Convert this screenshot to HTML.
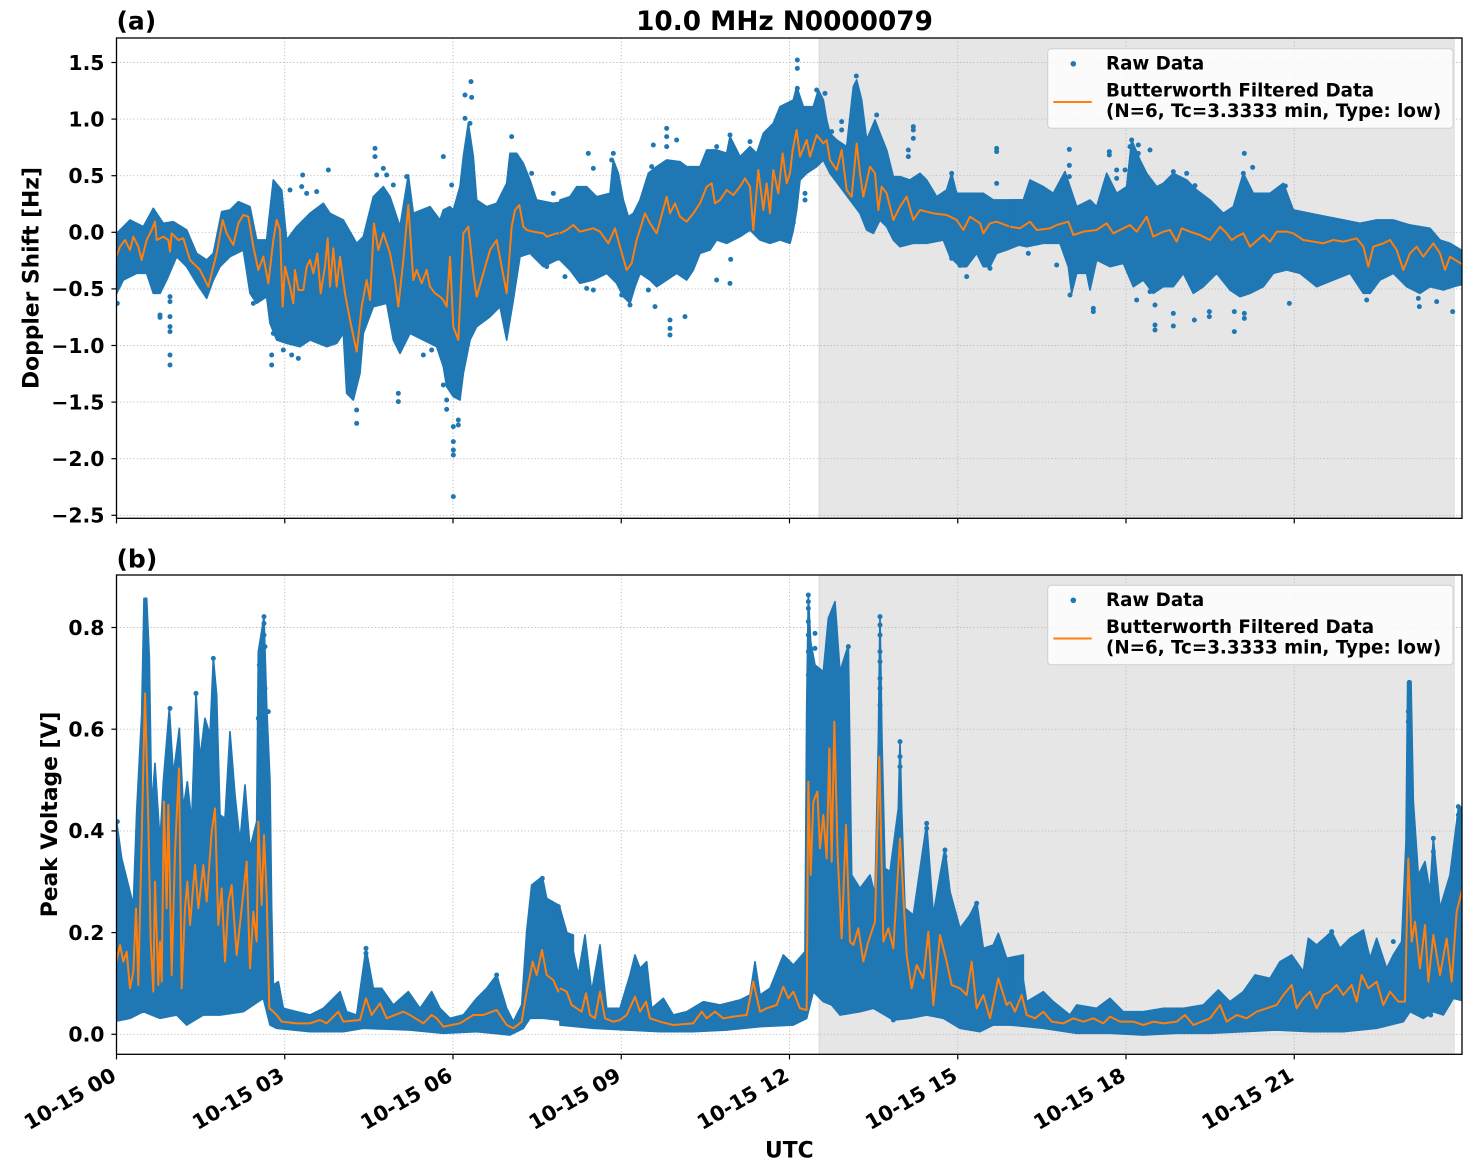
<!DOCTYPE html>
<html><head><meta charset="utf-8"><style>
html,body{margin:0;padding:0;background:#fff;}
svg{display:block;}
text{font-family:"DejaVu Sans","Liberation Sans",sans-serif;font-weight:bold;fill:#000;}
</style></head><body>
<svg width="1471" height="1172" viewBox="0 0 1471 1172" xmlns="http://www.w3.org/2000/svg">
<defs>
<clipPath id="ca"><rect x="116.5" y="38" width="1345.5" height="480.3"/></clipPath>
<clipPath id="cb"><rect x="116.5" y="575" width="1345.5" height="479.3"/></clipPath>
</defs>
<rect width="1471" height="1172" fill="#fff"/>

<!-- ===== PANEL A ===== -->
<rect x="818.8" y="38" width="636.2" height="480.3" fill="#e6e6e6"/>
<line x1="819.3" y1="38" x2="819.3" y2="518.3" stroke="#dadada" stroke-width="1.2"/>
<g stroke="#b9b9b9" stroke-width="0.9" stroke-dasharray="1.2,2.2" fill="none">
<line x1="284.75" y1="38" x2="284.75" y2="518"/><line x1="453" y1="38" x2="453" y2="518"/><line x1="621.25" y1="38" x2="621.25" y2="518"/><line x1="789.5" y1="38" x2="789.5" y2="518"/><line x1="957.75" y1="38" x2="957.75" y2="518"/><line x1="1126" y1="38" x2="1126" y2="518"/><line x1="1294.25" y1="38" x2="1294.25" y2="518"/>
<line x1="116.5" y1="62.5" x2="1462" y2="62.5"/><line x1="116.5" y1="119.1" x2="1462" y2="119.1"/><line x1="116.5" y1="175.7" x2="1462" y2="175.7"/><line x1="116.5" y1="232.3" x2="1462" y2="232.3"/><line x1="116.5" y1="288.9" x2="1462" y2="288.9"/><line x1="116.5" y1="345.5" x2="1462" y2="345.5"/><line x1="116.5" y1="402.1" x2="1462" y2="402.1"/><line x1="116.5" y1="458.7" x2="1462" y2="458.7"/><line x1="116.5" y1="515.3" x2="1462" y2="515.3"/>
</g>
<g clip-path="url(#ca)">
<g transform="translate(110,40) scale(0.33333)">
<polygon fill="#1f77b4" stroke="#1f77b4" stroke-width="5" stroke-linejoin="round" points="10,580 20,580 60,540 100,560 130,505 160,550 190,545 230,570 260,640 290,660 310,640 335,515 360,510 385,485 420,500 440,600 470,600 490,420 515,450 530,600 560,560 600,520 640,490 660,520 700,540 740,610 760,590 790,470 820,440 840,470 870,560 895,405 910,520 960,500 990,540 1000,510 1020,500 1030,510 1050,440 1060,350 1075,250 1090,350 1100,480 1130,500 1160,490 1190,430 1200,340 1220,340 1240,370 1260,420 1280,480 1330,490 1390,480 1390,650 1340,660 1300,680 1260,640 1230,650 1210,780 1190,900 1170,800 1140,830 1100,860 1080,900 1060,1000 1050,1080 1030,1070 1010,1040 1000,980 980,920 940,900 900,880 870,940 850,900 830,790 790,800 760,880 750,1000 730,1080 710,1060 700,880 680,910 650,920 600,900 570,920 530,910 500,900 480,850 470,770 440,790 420,760 400,630 360,650 330,680 310,720 290,775 260,730 230,680 200,650 170,720 150,760 130,760 110,700 80,700 40,720 20,760 10,760"/>
<g fill="#1f77b4">
<circle cx="180" cy="770" r="7.5"/><circle cx="180" cy="785" r="7.5"/><circle cx="180" cy="830" r="7.5"/><circle cx="180" cy="860" r="7.5"/><circle cx="180" cy="875" r="7.5"/><circle cx="180" cy="945" r="7.5"/><circle cx="180" cy="975" r="7.5"/><circle cx="150" cy="825" r="7.5"/><circle cx="150" cy="832" r="7.5"/><circle cx="485" cy="945" r="7.5"/><circle cx="485" cy="975" r="7.5"/><circle cx="520" cy="930" r="7.5"/><circle cx="545" cy="945" r="7.5"/><circle cx="565" cy="955" r="7.5"/><circle cx="740" cy="1110" r="7.5"/><circle cx="740" cy="1150" r="7.5"/><circle cx="865" cy="1060" r="7.5"/><circle cx="865" cy="1085" r="7.5"/><circle cx="1000" cy="1035" r="7.5"/><circle cx="1010" cy="1080" r="7.5"/><circle cx="1010" cy="1108" r="7.5"/><circle cx="1030" cy="1160" r="7.5"/><circle cx="1030" cy="1205" r="7.5"/><circle cx="1030" cy="1230" r="7.5"/><circle cx="1030" cy="1245" r="7.5"/><circle cx="1045" cy="1140" r="7.5"/><circle cx="1045" cy="1155" r="7.5"/><circle cx="1030" cy="1370" r="7.5"/><circle cx="795" cy="325" r="7.5"/><circle cx="795" cy="350" r="7.5"/><circle cx="820" cy="385" r="7.5"/><circle cx="850" cy="435" r="7.5"/><circle cx="1000" cy="350" r="7.5"/><circle cx="1083" cy="125" r="7.5"/><circle cx="1065" cy="165" r="7.5"/><circle cx="1085" cy="172" r="7.5"/><circle cx="1065" cy="235" r="7.5"/><circle cx="1080" cy="250" r="7.5"/><circle cx="578" cy="405" r="7.5"/><circle cx="655" cy="390" r="7.5"/><circle cx="1205" cy="290" r="7.5"/><circle cx="1265" cy="400" r="7.5"/><circle cx="1330" cy="460" r="7.5"/><circle cx="1365" cy="710" r="7.5"/><circle cx="1310" cy="680" r="7.5"/><circle cx="1025" cy="435" r="7.5"/><circle cx="1055" cy="440" r="7.5"/><circle cx="540" cy="450" r="7.5"/><circle cx="620" cy="455" r="7.5"/><circle cx="890" cy="410" r="7.5"/><circle cx="575" cy="440" r="7.5"/><circle cx="590" cy="460" r="7.5"/><circle cx="830" cy="405" r="7.5"/><circle cx="800" cy="405" r="7.5"/><circle cx="22" cy="790" r="7.5"/><circle cx="490" cy="880" r="7.5"/><circle cx="430" cy="790" r="7.5"/><circle cx="940" cy="945" r="7.5"/><circle cx="965" cy="930" r="7.5"/>
</g>
<polyline fill="none" stroke="#ff7f0e" stroke-width="6" stroke-linejoin="round" points="15,660 30,620 45,600 60,630 70,590 85,620 95,660 110,600 125,570 135,545 140,600 160,590 175,600 180,635 185,580 205,600 220,595 240,660 270,690 295,740 320,640 338,540 350,580 370,615 385,550 400,525 415,530 430,620 445,690 460,650 475,730 490,600 500,540 510,570 518,800 525,680 540,740 550,790 555,690 565,750 580,750 590,680 600,660 610,700 622,640 632,760 645,680 653,595 660,740 670,625 680,740 690,650 705,760 720,840 740,935 755,800 770,720 780,780 792,550 805,630 820,580 840,640 855,720 865,800 880,660 895,495 910,720 920,690 935,730 950,690 960,740 975,760 990,770 1000,780 1010,800 1020,650 1030,860 1045,900 1060,580 1075,560 1090,700 1100,770 1120,700 1140,630 1160,600 1175,680 1190,760 1205,560 1215,510 1228,495 1240,560 1250,570 1270,575 1300,580 1310,590 1340,580 1350,580"/>
</g>
<g transform="translate(560,40) scale(0.33333)">
<polygon fill="#1f77b4" stroke="#1f77b4" stroke-width="5" stroke-linejoin="round" points="0,480 30,470 50,440 80,440 110,470 150,460 160,360 175,400 190,480 205,530 220,520 240,480 265,400 290,380 320,360 360,365 380,380 420,380 440,330 470,330 500,340 510,290 540,350 570,320 590,340 610,280 640,250 660,200 680,190 700,180 710,140 730,200 760,200 775,150 790,180 800,240 810,280 830,300 860,320 880,140 890,120 905,180 920,300 945,240 960,280 980,330 1000,410 1020,410 1050,420 1080,400 1100,420 1130,470 1160,450 1175,400 1190,460 1220,460 1270,460 1300,480 1340,480 1390,480 1390,610 1340,630 1310,640 1290,680 1270,680 1250,640 1220,680 1200,680 1170,650 1150,600 1100,610 1060,610 1020,620 1000,600 980,560 960,540 940,580 920,570 900,520 870,480 840,440 810,400 790,360 770,380 740,400 720,420 710,510 700,570 690,610 660,600 630,610 600,600 570,570 540,590 500,610 470,600 450,630 420,640 400,690 380,720 350,700 320,720 290,740 270,720 240,700 225,740 210,790 190,770 170,730 140,700 100,720 60,730 30,690 0,660"/>
<g fill="#1f77b4">
<circle cx="85" cy="340" r="7.5"/><circle cx="100" cy="385" r="7.5"/><circle cx="160" cy="340" r="7.5"/><circle cx="155" cy="360" r="7.5"/><circle cx="320" cy="265" r="7.5"/><circle cx="320" cy="290" r="7.5"/><circle cx="320" cy="320" r="7.5"/><circle cx="280" cy="315" r="7.5"/><circle cx="350" cy="300" r="7.5"/><circle cx="275" cy="380" r="7.5"/><circle cx="470" cy="320" r="7.5"/><circle cx="510" cy="285" r="7.5"/><circle cx="570" cy="305" r="7.5"/><circle cx="712" cy="60" r="7.5"/><circle cx="712" cy="85" r="7.5"/><circle cx="712" cy="145" r="7.5"/><circle cx="712" cy="165" r="7.5"/><circle cx="770" cy="150" r="7.5"/><circle cx="795" cy="160" r="7.5"/><circle cx="889" cy="108" r="7.5"/><circle cx="950" cy="225" r="7.5"/><circle cx="845" cy="245" r="7.5"/><circle cx="845" cy="270" r="7.5"/><circle cx="815" cy="275" r="7.5"/><circle cx="1060" cy="260" r="7.5"/><circle cx="1060" cy="270" r="7.5"/><circle cx="1060" cy="295" r="7.5"/><circle cx="1045" cy="330" r="7.5"/><circle cx="1045" cy="350" r="7.5"/><circle cx="1310" cy="325" r="7.5"/><circle cx="1310" cy="335" r="7.5"/><circle cx="1310" cy="430" r="7.5"/><circle cx="1175" cy="400" r="7.5"/><circle cx="100" cy="750" r="7.5"/><circle cx="80" cy="745" r="7.5"/><circle cx="185" cy="765" r="7.5"/><circle cx="210" cy="795" r="7.5"/><circle cx="330" cy="840" r="7.5"/><circle cx="330" cy="865" r="7.5"/><circle cx="330" cy="885" r="7.5"/><circle cx="375" cy="830" r="7.5"/><circle cx="285" cy="800" r="7.5"/><circle cx="265" cy="750" r="7.5"/><circle cx="470" cy="720" r="7.5"/><circle cx="510" cy="730" r="7.5"/><circle cx="512" cy="658" r="7.5"/><circle cx="700" cy="548" r="7.5"/><circle cx="735" cy="480" r="7.5"/><circle cx="735" cy="460" r="7.5"/><circle cx="1200" cy="676" r="7.5"/><circle cx="1220" cy="710" r="7.5"/><circle cx="1290" cy="685" r="7.5"/><circle cx="1175" cy="655" r="7.5"/>
</g>
<polyline fill="none" stroke="#ff7f0e" stroke-width="6" stroke-linejoin="round" points="0,580 20,570 40,555 60,575 80,570 100,565 120,575 145,610 165,565 180,620 200,690 215,670 230,600 255,520 270,550 290,580 305,525 320,470 330,520 345,490 360,530 380,545 400,520 420,490 440,440 455,430 465,490 480,480 500,450 520,465 540,440 555,415 570,440 580,570 595,390 610,510 620,430 630,520 640,390 655,460 668,340 680,430 690,400 698,330 710,270 720,350 740,300 750,350 770,285 790,310 800,300 810,360 830,390 845,330 860,450 875,470 890,310 900,400 910,470 930,380 945,400 955,510 965,440 980,460 1000,540 1020,500 1040,470 1060,540 1080,510 1100,515 1120,520 1160,525 1190,540 1210,570 1230,530 1260,550 1270,580 1290,550 1310,545 1350,560"/>
</g>
<g transform="translate(1010,40) scale(0.33333)">
<polygon fill="#1f77b4" stroke="#1f77b4" stroke-width="5" stroke-linejoin="round" points="0,480 40,480 60,420 100,440 130,460 165,395 180,440 200,500 240,480 260,500 290,400 320,460 350,440 365,300 390,360 410,400 440,440 460,430 490,400 530,420 560,450 600,480 640,520 670,500 700,400 730,460 780,460 820,430 850,510 900,520 950,530 1000,540 1050,550 1100,540 1150,540 1200,555 1260,565 1290,600 1320,610 1370,640 1370,730 1330,740 1300,750 1260,740 1230,760 1190,740 1150,700 1110,720 1080,760 1060,760 1020,700 970,720 920,740 870,700 830,690 790,700 760,740 720,760 690,770 660,750 620,700 580,740 550,760 520,700 490,740 460,740 430,760 400,720 370,740 340,670 300,680 260,660 240,750 230,700 200,700 185,760 175,680 150,610 100,610 50,620 0,610"/>
<g fill="#1f77b4">
<circle cx="178" cy="328" r="7.5"/><circle cx="178" cy="376" r="7.5"/><circle cx="178" cy="410" r="7.5"/><circle cx="298" cy="335" r="7.5"/><circle cx="298" cy="345" r="7.5"/><circle cx="320" cy="390" r="7.5"/><circle cx="320" cy="415" r="7.5"/><circle cx="345" cy="390" r="7.5"/><circle cx="365" cy="300" r="7.5"/><circle cx="360" cy="320" r="7.5"/><circle cx="385" cy="315" r="7.5"/><circle cx="420" cy="330" r="7.5"/><circle cx="385" cy="340" r="7.5"/><circle cx="385" cy="395" r="7.5"/><circle cx="400" cy="410" r="7.5"/><circle cx="490" cy="395" r="7.5"/><circle cx="530" cy="400" r="7.5"/><circle cx="555" cy="437" r="7.5"/><circle cx="703" cy="340" r="7.5"/><circle cx="728" cy="382" r="7.5"/><circle cx="700" cy="400" r="7.5"/><circle cx="826" cy="438" r="7.5"/><circle cx="826" cy="478" r="7.5"/><circle cx="250" cy="805" r="7.5"/><circle cx="250" cy="815" r="7.5"/><circle cx="180" cy="765" r="7.5"/><circle cx="435" cy="795" r="7.5"/><circle cx="380" cy="780" r="7.5"/><circle cx="420" cy="755" r="7.5"/><circle cx="435" cy="855" r="7.5"/><circle cx="435" cy="870" r="7.5"/><circle cx="490" cy="820" r="7.5"/><circle cx="490" cy="858" r="7.5"/><circle cx="553" cy="840" r="7.5"/><circle cx="598" cy="815" r="7.5"/><circle cx="598" cy="830" r="7.5"/><circle cx="673" cy="815" r="7.5"/><circle cx="673" cy="875" r="7.5"/><circle cx="703" cy="820" r="7.5"/><circle cx="703" cy="835" r="7.5"/><circle cx="838" cy="790" r="7.5"/><circle cx="1070" cy="780" r="7.5"/><circle cx="1228" cy="800" r="7.5"/><circle cx="1280" cy="785" r="7.5"/><circle cx="1328" cy="815" r="7.5"/><circle cx="55" cy="640" r="7.5"/><circle cx="140" cy="675" r="7.5"/><circle cx="1225" cy="775" r="7.5"/>
</g>
<polyline fill="none" stroke="#ff7f0e" stroke-width="6" stroke-linejoin="round" points="0,560 30,565 60,545 80,570 120,565 140,555 175,545 190,585 220,575 260,570 290,550 310,580 340,565 360,555 380,575 410,530 430,590 460,575 480,570 500,605 515,565 540,575 570,585 600,600 630,560 650,580 665,600 680,590 700,580 720,620 760,585 780,605 800,575 830,575 850,580 880,600 910,605 940,610 970,600 1000,605 1040,595 1060,620 1075,680 1090,620 1120,610 1140,600 1160,630 1180,690 1200,640 1220,620 1240,650 1270,610 1290,640 1305,690 1320,650 1360,675"/>
</g>
</g>
<!-- legend A -->
<rect x="1047.7" y="48.8" width="405.3" height="79.5" rx="3.5" fill="#ffffff" fill-opacity="0.82" stroke="#cfcfcf" stroke-width="1"/>
<circle cx="1073.3" cy="63.8" r="2.8" fill="#1f77b4"/>
<line x1="1053.3" y1="102" x2="1091.7" y2="102" stroke="#ff7f0e" stroke-width="2"/>
<text x="1106" y="69.6" font-size="18.3">Raw Data</text>
<text x="1106" y="96.4" font-size="18.3">Butterworth Filtered Data</text>
<text x="1106" y="117" font-size="18.3">(N=6, Tc=3.3333 min, Type: low)</text>
<!-- axes A frame & ticks -->
<rect x="116.5" y="38" width="1345.5" height="480.3" fill="none" stroke="#000" stroke-width="1.3"/>
<g stroke="#000" stroke-width="1.2">
<line x1="111.4" y1="62.5" x2="116.5" y2="62.5"/><line x1="111.4" y1="119.1" x2="116.5" y2="119.1"/><line x1="111.4" y1="175.7" x2="116.5" y2="175.7"/><line x1="111.4" y1="232.3" x2="116.5" y2="232.3"/><line x1="111.4" y1="288.9" x2="116.5" y2="288.9"/><line x1="111.4" y1="345.5" x2="116.5" y2="345.5"/><line x1="111.4" y1="402.1" x2="116.5" y2="402.1"/><line x1="111.4" y1="458.7" x2="116.5" y2="458.7"/><line x1="111.4" y1="515.3" x2="116.5" y2="515.3"/>
<line x1="116.5" y1="518.3" x2="116.5" y2="523.4"/><line x1="284.75" y1="518.3" x2="284.75" y2="523.4"/><line x1="453" y1="518.3" x2="453" y2="523.4"/><line x1="621.25" y1="518.3" x2="621.25" y2="523.4"/><line x1="789.5" y1="518.3" x2="789.5" y2="523.4"/><line x1="957.75" y1="518.3" x2="957.75" y2="523.4"/><line x1="1126" y1="518.3" x2="1126" y2="523.4"/><line x1="1294.25" y1="518.3" x2="1294.25" y2="523.4"/>
</g>
<g font-size="20.4" text-anchor="end">
<text x="104.5" y="69.8">1.5</text><text x="104.5" y="126.4">1.0</text><text x="104.5" y="183">0.5</text><text x="104.5" y="239.6">0.0</text><text x="104.5" y="296.2">−0.5</text><text x="104.5" y="352.8">−1.0</text><text x="104.5" y="409.4">−1.5</text><text x="104.5" y="466">−2.0</text><text x="104.5" y="522.6">−2.5</text>
</g>
<text x="38.5" y="278" font-size="21.8" text-anchor="middle" transform="rotate(-90 38.5 278)">Doppler Shift [Hz]</text>
<text x="116.5" y="29.5" font-size="25">(a)</text>
<text x="784.5" y="30" font-size="26.3" text-anchor="middle">10.0 MHz N0000079</text>

<!-- ===== PANEL B ===== -->
<rect x="818.8" y="575" width="636.2" height="479.3" fill="#e6e6e6"/>
<line x1="819.3" y1="575" x2="819.3" y2="1054.3" stroke="#dadada" stroke-width="1.2"/>
<g stroke="#b9b9b9" stroke-width="0.9" stroke-dasharray="1.2,2.2" fill="none">
<line x1="284.75" y1="575" x2="284.75" y2="1054"/><line x1="453" y1="575" x2="453" y2="1054"/><line x1="621.25" y1="575" x2="621.25" y2="1054"/><line x1="789.5" y1="575" x2="789.5" y2="1054"/><line x1="957.75" y1="575" x2="957.75" y2="1054"/><line x1="1126" y1="575" x2="1126" y2="1054"/><line x1="1294.25" y1="575" x2="1294.25" y2="1054"/>
<line x1="116.5" y1="627.5" x2="1462" y2="627.5"/><line x1="116.5" y1="729.2" x2="1462" y2="729.2"/><line x1="116.5" y1="830.9" x2="1462" y2="830.9"/><line x1="116.5" y1="932.6" x2="1462" y2="932.6"/><line x1="116.5" y1="1034.3" x2="1462" y2="1034.3"/>
</g>
<g clip-path="url(#cb)">
<g transform="translate(110,575) scale(0.33333)">
<polygon fill="#1f77b4" stroke="#1f77b4" stroke-width="5" stroke-linejoin="round" points="10,740 20,740 35,850 50,910 70,990 80,710 95,420 102,70 110,70 118,250 125,700 135,565 150,800 160,620 178,400 190,600 208,460 220,700 232,620 245,740 258,355 270,550 285,430 300,480 310,250 320,360 330,720 345,730 360,470 375,660 390,800 405,630 420,820 440,740 445,230 462,125 470,390 480,620 485,1000 490,1230 505,1220 520,1300 560,1310 600,1320 640,1300 690,1250 710,1310 740,1320 768,1120 790,1240 815,1240 850,1290 895,1250 930,1300 965,1250 990,1300 1020,1330 1060,1320 1100,1270 1130,1240 1160,1200 1190,1300 1210,1340 1235,1290 1250,1070 1265,930 1297,905 1310,970 1345,990 1360,1070 1390,1080 1390,1340 1300,1330 1260,1330 1240,1360 1200,1380 1100,1370 1000,1375 900,1365 760,1360 700,1370 600,1370 500,1360 480,1350 460,1270 400,1310 330,1320 280,1320 230,1350 200,1320 150,1330 100,1310 60,1330 10,1340"/>
<g fill="#1f77b4">
<circle cx="462" cy="125" r="7.5"/><circle cx="462" cy="145" r="7.5"/><circle cx="462" cy="180" r="7.5"/><circle cx="465" cy="215" r="7.5"/><circle cx="462" cy="300" r="7.5"/><circle cx="450" cy="235" r="7.5"/><circle cx="448" cy="270" r="7.5"/><circle cx="465" cy="340" r="7.5"/><circle cx="475" cy="410" r="7.5"/><circle cx="445" cy="430" r="7.5"/><circle cx="768" cy="1120" r="7.5"/><circle cx="768" cy="1135" r="7.5"/><circle cx="768" cy="1175" r="7.5"/><circle cx="1160" cy="1200" r="7.5"/><circle cx="1160" cy="1215" r="7.5"/><circle cx="1345" cy="995" r="7.5"/><circle cx="1345" cy="1015" r="7.5"/><circle cx="1345" cy="1035" r="7.5"/><circle cx="1297" cy="910" r="7.5"/><circle cx="180" cy="400" r="7.5"/><circle cx="258" cy="355" r="7.5"/><circle cx="310" cy="250" r="7.5"/><circle cx="22" cy="740" r="7.5"/>
</g>
<polyline fill="none" stroke="#ff7f0e" stroke-width="6" stroke-linejoin="round" points="15,1180 30,1110 40,1160 50,1130 60,1240 70,1190 78,1000 85,1230 95,790 105,355 115,740 122,1100 130,1250 135,920 145,1230 150,1100 155,1220 162,680 170,1000 175,690 185,1200 195,830 207,580 215,1240 225,1000 232,920 240,1050 255,870 265,1000 280,870 290,980 305,770 315,700 325,1050 335,940 345,1160 355,980 365,930 380,1140 395,1000 410,860 420,1180 430,1010 440,1100 445,740 455,990 462,780 470,960 478,1300 490,1310 500,1320 515,1340 560,1345 600,1345 630,1335 650,1345 685,1310 700,1340 750,1335 768,1270 785,1320 810,1285 830,1330 880,1310 900,1320 940,1345 965,1320 980,1330 1000,1355 1050,1345 1090,1320 1120,1320 1160,1305 1190,1350 1210,1360 1235,1340 1250,1250 1268,1160 1280,1200 1296,1125 1310,1200 1330,1215 1345,1250 1350,1240"/>
</g>
<g transform="translate(560,575) scale(0.33333)">
<polygon fill="#1f77b4" stroke="#1f77b4" stroke-width="5" stroke-linejoin="round" points="0,1000 20,1070 40,1130 55,1200 75,1080 95,1250 120,1110 140,1300 180,1300 210,1200 225,1140 240,1180 260,1160 275,1300 310,1270 340,1320 380,1310 430,1280 480,1290 540,1275 570,1260 585,1160 600,1260 630,1240 670,1140 700,1170 735,1130 740,400 745,60 752,200 765,270 790,290 805,130 825,80 840,290 865,210 872,700 875,900 900,940 930,900 945,960 955,500 960,120 966,500 975,880 990,890 1015,700 1020,500 1025,700 1035,1000 1060,1020 1100,745 1120,1020 1140,900 1155,820 1170,950 1200,1060 1230,1020 1250,980 1270,1120 1300,1110 1315,1075 1340,1150 1390,1140 1390,1350 1300,1350 1260,1370 1200,1360 1150,1330 1100,1320 1050,1330 1000,1335 940,1300 900,1310 840,1320 815,1290 790,1280 760,1250 740,1330 700,1350 600,1355 500,1365 400,1370 300,1370 200,1365 100,1360 0,1350"/>
<g fill="#1f77b4">
<circle cx="745" cy="60" r="7.5"/><circle cx="745" cy="80" r="7.5"/><circle cx="745" cy="100" r="7.5"/><circle cx="745" cy="140" r="7.5"/><circle cx="745" cy="180" r="7.5"/><circle cx="745" cy="230" r="7.5"/><circle cx="745" cy="300" r="7.5"/><circle cx="765" cy="175" r="7.5"/><circle cx="765" cy="220" r="7.5"/><circle cx="960" cy="125" r="7.5"/><circle cx="960" cy="150" r="7.5"/><circle cx="960" cy="180" r="7.5"/><circle cx="960" cy="230" r="7.5"/><circle cx="960" cy="260" r="7.5"/><circle cx="960" cy="310" r="7.5"/><circle cx="960" cy="340" r="7.5"/><circle cx="960" cy="390" r="7.5"/><circle cx="1020" cy="500" r="7.5"/><circle cx="1020" cy="545" r="7.5"/><circle cx="1020" cy="575" r="7.5"/><circle cx="1100" cy="745" r="7.5"/><circle cx="1100" cy="760" r="7.5"/><circle cx="1100" cy="820" r="7.5"/><circle cx="1100" cy="860" r="7.5"/><circle cx="1155" cy="825" r="7.5"/><circle cx="1155" cy="845" r="7.5"/><circle cx="1250" cy="985" r="7.5"/><circle cx="1235" cy="1020" r="7.5"/><circle cx="1000" cy="1335" r="7.5"/><circle cx="865" cy="215" r="7.5"/>
</g>
<polyline fill="none" stroke="#ff7f0e" stroke-width="6" stroke-linejoin="round" points="0,1240 20,1250 35,1290 50,1300 65,1310 78,1255 90,1320 105,1330 120,1250 135,1330 160,1340 180,1335 200,1320 225,1265 240,1310 258,1280 270,1330 300,1340 340,1350 400,1345 425,1310 440,1330 465,1310 490,1330 520,1325 560,1320 580,1220 600,1310 620,1300 650,1290 670,1235 685,1270 700,1250 720,1300 740,1305 745,620 752,900 760,680 772,650 780,820 790,720 800,850 808,520 815,860 823,440 833,840 845,1090 858,750 870,1100 880,1110 895,1060 910,1160 925,1100 945,1040 958,545 970,1100 985,1060 1000,1120 1020,790 1040,1140 1055,1240 1070,1170 1090,1210 1105,1070 1120,1290 1140,1080 1160,1160 1175,1230 1200,1240 1220,1260 1235,1160 1250,1300 1270,1260 1290,1330 1315,1210 1340,1290 1350,1280"/>
</g>
<g transform="translate(1010,575) scale(0.33333)">
<polygon fill="#1f77b4" stroke="#1f77b4" stroke-width="5" stroke-linejoin="round" points="0,1160 30,1150 50,1280 100,1250 130,1280 180,1320 200,1290 260,1300 300,1270 340,1310 400,1310 460,1300 520,1300 580,1290 625,1245 660,1280 700,1250 735,1200 780,1210 810,1160 845,1140 880,1190 895,1090 920,1110 965,1070 990,1120 1020,1090 1060,1065 1080,1150 1100,1090 1130,1180 1150,1140 1175,1100 1188,800 1193,320 1203,320 1210,680 1225,900 1245,860 1260,950 1270,790 1290,1000 1320,900 1345,700 1370,690 1370,1280 1330,1270 1300,1320 1270,1310 1240,1330 1200,1310 1180,1340 1100,1360 1000,1370 900,1370 800,1365 700,1370 600,1375 500,1375 400,1380 300,1375 200,1375 100,1360 0,1350"/>
<g fill="#1f77b4">
<circle cx="1198" cy="322" r="7.5"/><circle cx="1198" cy="335" r="7.5"/><circle cx="1198" cy="355" r="7.5"/><circle cx="1195" cy="410" r="7.5"/><circle cx="1195" cy="440" r="7.5"/><circle cx="1270" cy="790" r="7.5"/><circle cx="1270" cy="830" r="7.5"/><circle cx="1270" cy="870" r="7.5"/><circle cx="1270" cy="895" r="7.5"/><circle cx="1262" cy="1320" r="7.5"/><circle cx="965" cy="1070" r="7.5"/><circle cx="1150" cy="1100" r="7.5"/><circle cx="1345" cy="695" r="7.5"/><circle cx="1345" cy="720" r="7.5"/>
</g>
<polyline fill="none" stroke="#ff7f0e" stroke-width="6" stroke-linejoin="round" points="0,1280 15,1310 35,1260 50,1320 75,1330 100,1310 125,1340 160,1345 190,1330 220,1340 250,1330 280,1345 300,1325 330,1340 370,1340 400,1350 430,1340 460,1345 500,1340 525,1320 550,1350 600,1330 630,1290 650,1340 680,1320 710,1330 740,1310 770,1300 800,1290 820,1260 845,1230 860,1300 880,1270 900,1250 920,1300 940,1260 960,1250 980,1230 1000,1260 1025,1230 1040,1280 1055,1200 1075,1240 1100,1220 1120,1290 1140,1250 1165,1280 1185,1280 1195,850 1205,1100 1215,1040 1230,1180 1245,1050 1255,1220 1270,1080 1290,1200 1310,1090 1325,1220 1340,1010 1360,930"/>
</g>
</g>
<!-- legend B -->
<rect x="1047.7" y="585.3" width="405.3" height="79.5" rx="3.5" fill="#ffffff" fill-opacity="0.82" stroke="#cfcfcf" stroke-width="1"/>
<circle cx="1073.3" cy="600.3" r="2.8" fill="#1f77b4"/>
<line x1="1053.3" y1="638.5" x2="1091.7" y2="638.5" stroke="#ff7f0e" stroke-width="2"/>
<text x="1106" y="606.1" font-size="18.3">Raw Data</text>
<text x="1106" y="632.9" font-size="18.3">Butterworth Filtered Data</text>
<text x="1106" y="653.5" font-size="18.3">(N=6, Tc=3.3333 min, Type: low)</text>
<!-- axes B frame & ticks -->
<rect x="116.5" y="575" width="1345.5" height="479.3" fill="none" stroke="#000" stroke-width="1.3"/>
<g stroke="#000" stroke-width="1.2">
<line x1="111.4" y1="627.5" x2="116.5" y2="627.5"/><line x1="111.4" y1="729.2" x2="116.5" y2="729.2"/><line x1="111.4" y1="830.9" x2="116.5" y2="830.9"/><line x1="111.4" y1="932.6" x2="116.5" y2="932.6"/><line x1="111.4" y1="1034.3" x2="116.5" y2="1034.3"/>
<line x1="116.5" y1="1054.3" x2="116.5" y2="1059.4"/><line x1="284.75" y1="1054.3" x2="284.75" y2="1059.4"/><line x1="453" y1="1054.3" x2="453" y2="1059.4"/><line x1="621.25" y1="1054.3" x2="621.25" y2="1059.4"/><line x1="789.5" y1="1054.3" x2="789.5" y2="1059.4"/><line x1="957.75" y1="1054.3" x2="957.75" y2="1059.4"/><line x1="1126" y1="1054.3" x2="1126" y2="1059.4"/><line x1="1294.25" y1="1054.3" x2="1294.25" y2="1059.4"/>
</g>
<g font-size="20.4" text-anchor="end">
<text x="104.5" y="634.8">0.8</text><text x="104.5" y="736.5">0.6</text><text x="104.5" y="838.2">0.4</text><text x="104.5" y="939.9">0.2</text><text x="104.5" y="1041.6">0.0</text>
</g>
<g font-size="20.6" text-anchor="end">
<text transform="translate(117.5,1079.5) rotate(-30)">10-15 00</text>
<text transform="translate(285.75,1079.5) rotate(-30)">10-15 03</text>
<text transform="translate(454,1079.5) rotate(-30)">10-15 06</text>
<text transform="translate(622.25,1079.5) rotate(-30)">10-15 09</text>
<text transform="translate(790.5,1079.5) rotate(-30)">10-15 12</text>
<text transform="translate(958.75,1079.5) rotate(-30)">10-15 15</text>
<text transform="translate(1127,1079.5) rotate(-30)">10-15 18</text>
<text transform="translate(1295.25,1079.5) rotate(-30)">10-15 21</text>
</g>
<text x="789.3" y="1157.5" font-size="21.8" text-anchor="middle">UTC</text>
<text x="57" y="814.5" font-size="21.8" text-anchor="middle" transform="rotate(-90 57 814.5)">Peak Voltage [V]</text>
<text x="116.5" y="567.5" font-size="25">(b)</text>
</svg>
</body></html>
